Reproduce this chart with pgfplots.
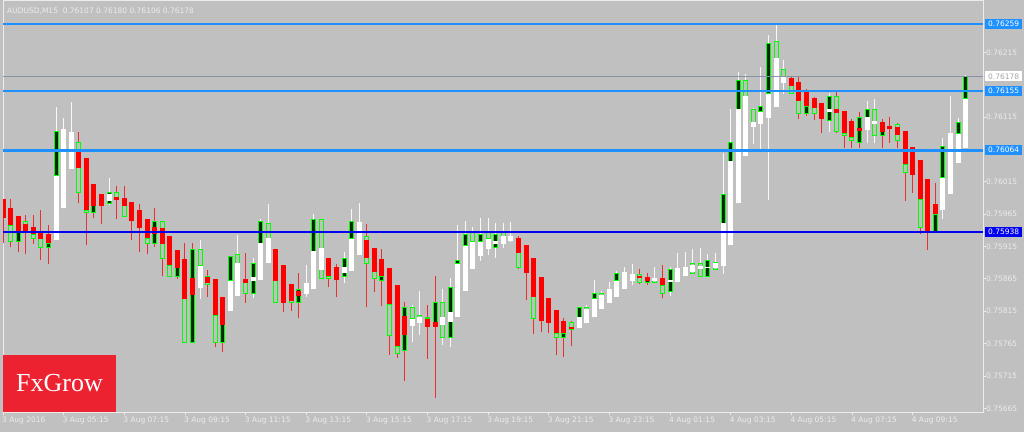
\documentclass[border=0pt]{standalone}
\usepackage{pgfplots}
\usepackage{pgfplotstable}
\pgfplotsset{compat=1.18}
\usepackage{fontspec}
\setmainfont{DejaVu Sans}
\newfontfamily\logofont{Liberation Serif}
\definecolor{bg}{HTML}{C0C0C0}
\definecolor{lbl}{HTML}{ECECEC}
\definecolor{dblue}{HTML}{1E90FF}
\definecolor{nblue}{HTML}{0000F0}
\definecolor{cred}{HTML}{FF0000}
\definecolor{wred}{HTML}{E83030}
\definecolor{lime}{HTML}{00FF00}
\definecolor{logored}{HTML}{ED2231}
\definecolor{curline}{HTML}{8595A5}
\newcommand\tickfont{\fontsize{7.5}{9}\selectfont}
% bearish candles: bar, open, high, low, close
\pgfplotstableread{
x o h l c
0 0.75988 0.75988 0.75920 0.75959
1 0.75974 0.75988 0.75914 0.75948
2 0.75962 0.75962 0.75906 0.75936
3 0.75950 0.75964 0.75903 0.75936
4 0.75945 0.75964 0.75919 0.75934
5 0.75937 0.75971 0.75894 0.75927
6 0.75934 0.75948 0.75888 0.75920
10 0.76064 0.76092 0.75982 0.76036
11 0.76052 0.76052 0.75917 0.75971
12 0.76012 0.76012 0.75959 0.75978
13 0.75996 0.75996 0.75950 0.75978
15 0.75991 0.76008 0.75957 0.75987
16 0.75990 0.76008 0.75961 0.75978
17 0.75984 0.75984 0.75925 0.75954
18 0.75971 0.75981 0.75906 0.75944
19 0.75957 0.75957 0.75903 0.75928
20 0.75945 0.75974 0.75914 0.75934
21 0.75944 0.75954 0.75869 0.75919
22 0.75931 0.75931 0.75868 0.75886
23 0.75910 0.75910 0.75865 0.75882
24 0.75896 0.75920 0.75766 0.75834
25 0.75866 0.75920 0.75766 0.75840
27 0.75868 0.75879 0.75837 0.75859
28 0.75865 0.75865 0.75760 0.75809
29 0.75837 0.75837 0.75752 0.75794
32 0.75865 0.75905 0.75828 0.75859
36 0.75911 0.75911 0.75828 0.75862
37 0.75886 0.75886 0.75814 0.75828
38 0.75857 0.75857 0.75815 0.75831
39 0.75846 0.75874 0.75804 0.75838
43 0.75897 0.75897 0.75852 0.75869
44 0.75883 0.75888 0.75837 0.75863
48 0.75925 0.75950 0.75821 0.75897
49 0.75913 0.75913 0.75845 0.75876
50 0.75896 0.75911 0.75823 0.75869
51 0.75882 0.75882 0.75747 0.75826
52 0.75855 0.75855 0.75743 0.75761
53 0.75808 0.75829 0.75707 0.75778
56 0.75803 0.75825 0.75741 0.75791
57 0.75798 0.75869 0.75681 0.75791
68 0.75928 0.75931 0.75880 0.75905
69 0.75917 0.75917 0.75832 0.75874
70 0.75897 0.75897 0.75780 0.75837
71 0.75868 0.75868 0.75783 0.75800
72 0.75835 0.75835 0.75781 0.75797
73 0.75817 0.75817 0.75747 0.75781
74 0.75800 0.75804 0.75744 0.75781
75 0.75791 0.75800 0.75761 0.75787
84 0.75869 0.75880 0.75857 0.75866
85 0.75868 0.75874 0.75855 0.75862
87 0.75866 0.75886 0.75835 0.75855
104 0.76175 0.76178 0.76151 0.76163
105 0.76169 0.76178 0.76112 0.76140
106 0.76155 0.76158 0.76117 0.76132
107 0.76144 0.76146 0.76110 0.76129
108 0.76137 0.76137 0.76090 0.76112
110 0.76127 0.76155 0.76090 0.76121
111 0.76124 0.76124 0.76067 0.76090
112 0.76109 0.76112 0.76067 0.76084
113 0.76098 0.76123 0.76067 0.76093
116 0.76107 0.76112 0.76067 0.76092
117 0.76101 0.76115 0.76075 0.76096
118 0.76100 0.76106 0.76067 0.76087
119 0.76093 0.76093 0.75985 0.76042
120 0.76069 0.76069 0.75998 0.76025
121 0.76049 0.76049 0.75934 0.75988
122 0.76019 0.76019 0.75910 0.75936
123 0.75981 0.76013 0.75936 0.75965
}\bear
% bullish candles
\pgfplotstableread{
x o h l c
7 0.75925 0.76130 0.75925 0.76024
8 0.75974 0.76113 0.75974 0.76096
9 0.76035 0.76138 0.76035 0.76092
14 0.75985 0.76021 0.75979 0.75996
26 0.75851 0.75925 0.75834 0.75885
30 0.75815 0.75900 0.75815 0.75862
31 0.75838 0.75933 0.75838 0.75889
33 0.75862 0.75897 0.75835 0.75868
34 0.75863 0.75957 0.75863 0.75920
35 0.75889 0.75981 0.75889 0.75928
40 0.75842 0.75886 0.75837 0.75859
41 0.75849 0.75965 0.75849 0.75908
42 0.75879 0.75957 0.75866 0.75913
45 0.75874 0.75906 0.75859 0.75883
46 0.75877 0.75973 0.75877 0.75927
47 0.75902 0.75982 0.75902 0.75953
54 0.75792 0.75825 0.75767 0.75803
55 0.75797 0.75846 0.75778 0.75806
58 0.75794 0.75849 0.75763 0.75806
59 0.75798 0.75866 0.75760 0.75814
60 0.75806 0.75948 0.75806 0.75888
61 0.75846 0.75954 0.75846 0.75916
62 0.75880 0.75945 0.75880 0.75922
63 0.75900 0.75959 0.75893 0.75922
64 0.75911 0.75959 0.75902 0.75927
65 0.75919 0.75951 0.75897 0.75923
66 0.75919 0.75951 0.75913 0.75931
67 0.75923 0.75953 0.75922 0.75931
76 0.75789 0.75821 0.75789 0.75806
77 0.75797 0.75825 0.75797 0.75818
78 0.75806 0.75863 0.75806 0.75834
79 0.75818 0.75846 0.75818 0.75840
80 0.75828 0.75860 0.75828 0.75849
81 0.75837 0.75877 0.75837 0.75862
82 0.75849 0.75883 0.75849 0.75876
83 0.75862 0.75888 0.75855 0.75872
86 0.75862 0.75883 0.75859 0.75866
88 0.75860 0.75883 0.75838 0.75863
89 0.75860 0.75905 0.75860 0.75882
90 0.75869 0.75906 0.75869 0.75883
91 0.75876 0.75911 0.75874 0.75886
92 0.75880 0.75913 0.75868 0.75885
93 0.75882 0.75903 0.75868 0.75883
94 0.75882 0.75905 0.75879 0.75889
95 0.75885 0.76059 0.75872 0.75951
96 0.75917 0.76127 0.75917 0.76047
97 0.75982 0.76185 0.75982 0.76127
98 0.76055 0.76181 0.76055 0.76147
99 0.76100 0.76129 0.76073 0.76107
100 0.76104 0.76192 0.76061 0.76123
101 0.76113 0.76242 0.75987 0.76151
102 0.76130 0.76259 0.76130 0.76206
103 0.76168 0.76203 0.76151 0.76178
109 0.76123 0.76152 0.76092 0.76127
114 0.76095 0.76140 0.76075 0.76115
115 0.76104 0.76143 0.76075 0.76109
124 0.75971 0.76083 0.75957 0.76021
125 0.75996 0.76147 0.75996 0.76090
126 0.76044 0.76113 0.76044 0.76089
127 0.76067 0.76180 0.76067 0.76143
}\bull
% green overlay boxes, dark filled
\pgfplotstableread{
x gl gh
2 0.75923 0.75936
6 0.75913 0.75920
7 0.76024 0.76093
12 0.75967 0.75978
14 0.75982 0.75999
20 0.75920 0.75954
23 0.75869 0.75882
25 0.75766 0.75911
29 0.75767 0.75794
30 0.75862 0.75900
33 0.75843 0.75889
34 0.75920 0.75954
39 0.75828 0.75848
41 0.75908 0.75957
45 0.75868 0.75896
46 0.75927 0.75954
50 0.75863 0.75869
53 0.75754 0.75821
57 0.75791 0.75828
59 0.75774 0.75852
60 0.75888 0.75893
61 0.75916 0.75934
63 0.75922 0.75934
65 0.75914 0.75934
74 0.75775 0.75781
76 0.75806 0.75821
78 0.75834 0.75842
81 0.75862 0.75874
85 0.75859 0.75863
88 0.75845 0.75879
93 0.75868 0.75893
95 0.75951 0.75996
96 0.76047 0.76075
97 0.76127 0.76172
100 0.76123 0.76132
101 0.76151 0.76229
106 0.76120 0.76132
109 0.76110 0.76147
113 0.76076 0.76115
114 0.76115 0.76126
116 0.76087 0.76092
123 0.75936 0.75965
124 0.76021 0.76070
126 0.76089 0.76107
127 0.76143 0.76178
}\gfill
% green overlay boxes, hollow
\pgfplotstableread{
x gl gh
1 0.75922 0.75948
3 0.75936 0.75954
4 0.75928 0.75934
5 0.75913 0.75927
10 0.75998 0.76076
11 0.75968 0.75971
15 0.75987 0.75998
16 0.75961 0.75978
19 0.75919 0.75928
21 0.75897 0.75954
22 0.75868 0.75886
24 0.75766 0.75834
26 0.75885 0.75911
27 0.75857 0.75869
28 0.75767 0.75809
31 0.75889 0.75902
32 0.75843 0.75859
35 0.75928 0.75951
36 0.75828 0.75862
38 0.75828 0.75831
42 0.75866 0.75957
43 0.75865 0.75869
48 0.75889 0.75931
49 0.75865 0.75876
51 0.75777 0.75826
52 0.75749 0.75761
54 0.75803 0.75821
55 0.75797 0.75808
56 0.75803 0.75806
58 0.75774 0.75829
62 0.75922 0.75936
64 0.75927 0.75936
66 0.75931 0.75937
68 0.75883 0.75905
70 0.75803 0.75837
73 0.75775 0.75781
75 0.75787 0.75797
77 0.75818 0.75821
79 0.75840 0.75843
84 0.75859 0.75872
86 0.75859 0.75866
87 0.75843 0.75855
91 0.75874 0.75888
92 0.75868 0.75888
94 0.75880 0.75891
98 0.76147 0.76172
99 0.76107 0.76126
102 0.76206 0.76231
103 0.76178 0.76189
104 0.76152 0.76163
105 0.76120 0.76140
107 0.76121 0.76129
110 0.76093 0.76147
111 0.76087 0.76090
112 0.76078 0.76084
115 0.76087 0.76127
118 0.76078 0.76104
119 0.76029 0.76042
121 0.75945 0.75988
}\ghollow
\pgfplotsset{
  seg/.style 2 args={draw=none, mark=none, forget plot,
    error bars/.cd, y dir=plus, y explicit, error mark=none,
    error bar style={draw=#1, line width=#2}},
}
\begin{document}
\begin{tikzpicture}
\fill[bg] (0pt,0pt) rectangle (1024pt,432pt);
\begin{axis}[
  at={(3pt,20pt)}, anchor=south west,
  scale only axis, width=980pt, height=411pt,
  xmin=0, xmax=129.29, ymin=0.756593, ymax=0.762943,
  clip mode=individual,
  axis line style={draw=lbl, line width=1pt},
  tick style={draw=lbl, line width=0.8pt},
  tick align=outside, major tick length=3pt,
  xtick pos=left, ytick pos=right,
  xtick={0,8,...,120},
  xticklabels={3 Aug 2016,3 Aug 05:15,3 Aug 07:15,3 Aug 09:15,3 Aug 11:15,3 Aug 13:15,3 Aug 15:15,3 Aug 17:15,3 Aug 19:15,3 Aug 21:15,3 Aug 23:15,4 Aug 01:15,4 Aug 03:15,4 Aug 05:15,4 Aug 07:15,4 Aug 09:15},
  xticklabel style={anchor=north west, inner sep=0pt, font=\tickfont, text=lbl, xshift=-1pt, yshift=-2pt},
  ytick={0.75665,0.75715,0.75765,0.75815,0.75865,0.75915,0.75965,0.76015,0.76115,0.76215},
  yticklabels={0.75665,0.75715,0.75765,0.75815,0.75865,0.75915,0.75965,0.76015,0.76115,0.76215},
  yticklabel style={anchor=west, inner sep=0pt, font=\tickfont, text=lbl},
]
% wicks
\addplot[seg={wred}{1pt}] table[x=x, y=l, y error plus expr=\thisrow{h}-\thisrow{l}]{\bear};
\addplot[seg={white!95!gray}{1pt}] table[x=x, y=l, y error plus expr=\thisrow{h}-\thisrow{l}]{\bull};
% green overlay boxes
\addplot[seg={lime}{5pt}] table[x=x, y=gl, y error plus expr=\thisrow{gh}-\thisrow{gl}]{\gfill};
\addplot[seg={black!85!green}{3pt}] table[x=x, y=gl, y error plus expr=\thisrow{gh}-\thisrow{gl}]{\gfill};
\addplot[seg={lime}{5pt}] table[x=x, y=gl, y error plus expr=\thisrow{gh}-\thisrow{gl}]{\ghollow};
\addplot[seg={bg}{3pt}] table[x=x, y=gl, y error plus expr=\thisrow{gh}-\thisrow{gl}]{\ghollow};
\addplot[only marks, forget plot, mark=-, mark size=2.5pt, lime, mark options={line width=1pt}] table[x=x, y=gl]{\gfill};
\addplot[only marks, forget plot, mark=-, mark size=2.5pt, lime, mark options={line width=1pt}] table[x=x, y=gh]{\gfill};
\addplot[only marks, forget plot, mark=-, mark size=2.5pt, lime, mark options={line width=1pt}] table[x=x, y=gl]{\ghollow};
\addplot[only marks, forget plot, mark=-, mark size=2.5pt, lime, mark options={line width=1pt}] table[x=x, y=gh]{\ghollow};
% bodies
\addplot[seg={cred}{5pt}] table[x=x, y=c, y error plus expr=\thisrow{o}-\thisrow{c}]{\bear};
\addplot[seg={white}{5pt}] table[x=x, y=o, y error plus expr=\thisrow{c}-\thisrow{o}]{\bull};
% levels
\addplot[dblue, line width=2pt, forget plot] coordinates {(0,0.76259) (129.29,0.76259)};
\addplot[curline, line width=1pt, forget plot] coordinates {(0,0.76178) (129.29,0.76178)};
\addplot[dblue, line width=2pt, forget plot] coordinates {(0,0.76155) (129.29,0.76155)};
\addplot[dblue, line width=3pt, forget plot] coordinates {(0,0.76064) (129.29,0.76064)};
\addplot[nblue, line width=2pt, forget plot] coordinates {(0,0.75938) (129.29,0.75938)};
% price boxes
\tikzset{pbox/.style={anchor=west, xshift=2pt, inner xsep=3pt, inner ysep=0pt, minimum height=10pt, font=\tickfont}}
\node[pbox, fill=dblue, text=white] at (axis cs:129.29,0.76259) {0.76259};
\node[pbox, fill=white, text=gray!70] at (axis cs:129.29,0.76178) {0.76178};
\node[pbox, fill=dblue, text=white] at (axis cs:129.29,0.76155) {0.76155};
\node[pbox, fill=dblue, text=white] at (axis cs:129.29,0.76064) {0.76064};
\node[pbox, fill=nblue, text=white] at (axis cs:129.29,0.75938) {0.75938};
\end{axis}
\node[anchor=west, text=lbl, font=\tickfont, inner sep=0pt] at (7pt,421.3pt) {AUDUSD,M15\ \ 0.76107 0.76180 0.76106 0.76178};
\fill[logored] (3pt,20pt) rectangle (116pt,77pt);
\node[text=white, font=\logofont\fontsize{26}{26}\selectfont, anchor=base, inner sep=0pt] at (59.5pt,40.3pt) {FxGrow};
\pgfresetboundingbox
\path[use as bounding box] (0pt,0pt) rectangle (1024pt,432pt);
\end{tikzpicture}
\end{document}
